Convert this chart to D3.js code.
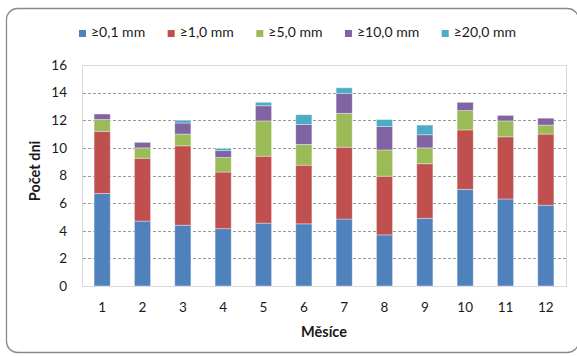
<!DOCTYPE html>
<html>
<head>
<meta charset="utf-8">
<script src="https://cdn.jsdelivr.net/npm/d3@7"></script>
<style>
  html, body { margin: 0; padding: 0; background: #fff; }
  svg { display: block; font-family: Lato, "Open Sans", sans-serif; }
</style>
</head>
<body>
<svg id="chart" width="577" height="356"></svg>
<script>
// Months of the year
const months = ["1", "2", "3", "4", "5", "6", "7", "8", "9", "10", "11", "12"];

// Precipitation thresholds (legend labels)
const seriesNames = ["≥0,1 mm", "≥1,0 mm", "≥5,0 mm", "≥10,0 mm", "≥20,0 mm"];
const seriesColors = ["#4F81BD", "#C0504D", "#9BBB59", "#8064A2", "#4BACC6"];

// Mean number of days per month in each precipitation class
const days01 = [6.7, 4.7, 4.4, 4.15, 4.55, 4.5, 4.85, 3.7, 4.9, 7.0, 6.3, 5.85];
const days1 = [4.5, 4.55, 5.75, 4.1, 4.85, 4.25, 5.2, 4.25, 3.95, 4.3, 4.5, 5.15];
const days5 = [0.85, 0.75, 0.85, 1.05, 2.55, 1.5, 2.45, 1.9, 1.15, 1.4, 1.15, 0.65];
const days10 = [0.4, 0.4, 0.8, 0.5, 1.1, 1.45, 1.45, 1.7, 0.95, 0.6, 0.4, 0.5];
const days20 = [0, 0, 0.2, 0.15, 0.25, 0.7, 0.4, 0.5, 0.7, 0, 0, 0];

// Y axis ticks
const yTicks = [0, 2, 4, 6, 8, 10, 12, 14, 16];

const yTitle = "Počet dni";
const xTitle = "Měsíce";

const seriesValues = [days01, days1, days5, days10, days20];
const table = months.map((m, i) => {
  const row = { month: m };
  seriesNames.forEach((s, k) => { row[s] = seriesValues[k][i]; });
  return row;
});

const svg = d3.select("#chart");
const plot = { left: 82, right: 566, top: 65, bottom: 286 };

// Outer rounded frame
svg.append("rect")
  .attr("x", 6.5).attr("y", 8.5)
  .attr("width", 572).attr("height", 344)
  .attr("rx", 11).attr("ry", 11)
  .attr("fill", "#fff")
  .attr("stroke", "#8a8a8a")
  .attr("stroke-width", 1.3);

const x = d3.scaleBand()
  .domain(months)
  .range([plot.left, plot.right])
  .paddingInner(0.6)
  .paddingOuter(0.3);

const y = d3.scaleLinear()
  .domain([0, 16])
  .range([plot.bottom, plot.top]);

// Plot area frame
svg.append("rect")
  .attr("x", plot.left + 0.5).attr("y", plot.top + 0.5)
  .attr("width", plot.right - plot.left).attr("height", plot.bottom - plot.top)
  .attr("fill", "none")
  .attr("stroke", "#d9d9d9")
  .attr("stroke-width", 1);

// Dashed gridlines
svg.append("g")
  .selectAll("line")
  .data(yTicks.filter(t => t > 0 && t < 16))
  .join("line")
  .attr("x1", plot.left + 1).attr("x2", plot.right)
  .attr("y1", d => Math.round(y(d)) + 0.5)
  .attr("y2", d => Math.round(y(d)) + 0.5)
  .attr("stroke", "#9a9a9a")
  .attr("stroke-width", 1)
  .attr("stroke-dasharray", "3,2");

// Stacked bars
const stack = d3.stack().keys(seriesNames);
const layers = stack(table);

svg.append("g")
  .selectAll("g")
  .data(layers)
  .join("g")
  .attr("fill", (d, i) => seriesColors[i])
  .selectAll("rect")
  .data(d => d.filter(p => p[1] - p[0] > 0))
  .join("rect")
  .attr("x", d => x(d.data.month))
  .attr("width", x.bandwidth())
  .attr("y", d => y(d[1]))
  .attr("height", d => y(d[0]) - y(d[1]))
  .attr("stroke", "#ffffff")
  .attr("stroke-opacity", 0.45)
  .attr("stroke-width", 0.8);

// Y axis labels
const yAxis = d3.axisLeft(y).tickValues(yTicks).tickSize(0).tickPadding(15).tickFormat(d3.format("d"));
const gy = svg.append("g")
  .attr("transform", `translate(${plot.left},0)`)
  .call(yAxis);
gy.select(".domain").remove();
gy.selectAll("text")
  .attr("font-family", "Lato, sans-serif")
  .attr("font-size", 13.5)
  .attr("fill", "#1a1a1a");

// X axis labels
const xAxis = d3.axisBottom(x).tickSize(0).tickPadding(16);
const gx = svg.append("g")
  .attr("transform", `translate(0,${plot.bottom})`)
  .call(xAxis);
gx.select(".domain").remove();
gx.selectAll("text")
  .attr("font-family", "Lato, sans-serif")
  .attr("font-size", 13.5)
  .attr("fill", "#1a1a1a");

// Axis titles
svg.append("text")
  .attr("x", (plot.left + plot.right) / 2)
  .attr("y", 337)
  .attr("text-anchor", "middle")
  .attr("font-weight", "bold")
  .attr("font-size", 14.5)
  .attr("fill", "#1a1a1a")
  .text(xTitle);

svg.append("text")
  .attr("transform", "translate(40,171) rotate(-90)")
  .attr("text-anchor", "middle")
  .attr("font-weight", "bold")
  .attr("font-size", 14.5)
  .attr("fill", "#1a1a1a")
  .text(yTitle);

// Legend, laid out left to right between fixed outer edges
const legendLeft = 79, legendRight = 516;
const legend = svg.append("g").attr("transform", "translate(0,37)");
const items = legend.selectAll("g")
  .data(seriesNames)
  .join("g");
items.append("rect")
  .attr("width", 7).attr("height", 7)
  .attr("y", -7)
  .attr("fill", (d, i) => seriesColors[i]);
items.append("text")
  .attr("x", 12)
  .attr("y", 0)
  .attr("font-size", 14)
  .attr("fill", "#1a1a1a")
  .text(d => d);

const widths = [];
items.each(function () {
  widths.push(12 + d3.select(this).select("text").node().getComputedTextLength());
});
const gap = (legendRight - legendLeft - d3.sum(widths)) / (widths.length - 1);
let cursor = legendLeft;
items.each(function (d, i) {
  d3.select(this).attr("transform", `translate(${cursor},0)`);
  cursor += widths[i] + gap;
});
</script>
</body>
</html>
